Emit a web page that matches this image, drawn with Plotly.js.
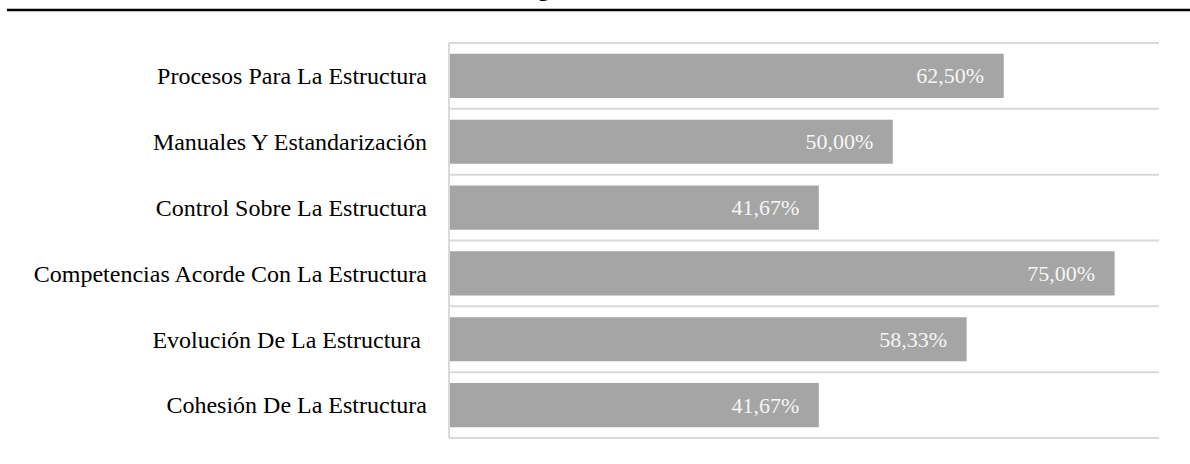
<!DOCTYPE html>
<html>
<head>
<meta charset="utf-8">
<script src="https://cdn.plot.ly/plotly-3.0.1.min.js"></script>
<style>html,body{margin:0;padding:0;background:#fff;}#chart{width:1190px;height:464px;}</style>
</head>
<body>
<div id="chart"></div>
<script>
const categories = [
  "Procesos Para La Estructura",
  "Manuales Y Estandarización",
  "Control Sobre La Estructura",
  "Competencias Acorde Con La Estructura",
  "Evolución De La Estructura\u00a0",
  "Cohesión De La Estructura"
];
const values = [0.625, 0.50, 0.4167, 0.75, 0.5833, 0.4167];

const trace = {
  type: "bar",
  orientation: "h",
  y: categories,
  x: values,
  marker: {color: "#a5a5a5"},
  texttemplate: "%{x:.2%}\u00a0\u00a0\u00a0",
  textposition: "inside",
  insidetextanchor: "end",
  textangle: 0,
  insidetextfont: {family: "Liberation Serif, Times New Roman, serif", size: 22, color: "#f5f5f5"},
  hoverinfo: "skip",
  cliponaxis: false
};

const layout = {
  width: 1190,
  height: 464,
  separators: ",.",
  margin: {l: 449, r: 31, t: 43, b: 26, pad: 0},
  paper_bgcolor: "#ffffff",
  plot_bgcolor: "#ffffff",
  bargap: 0.33,
  showlegend: false,
  font: {family: "Liberation Serif, Times New Roman, serif", size: 24, color: "#000000"},
  xaxis: {
    range: [0, 0.8],
    showgrid: false,
    zeroline: false,
    showticklabels: false,
    ticks: "",
    showline: false,
    fixedrange: true
  },
  yaxis: {
    autorange: "reversed",
    showgrid: false,
    zeroline: false,
    ticks: "",
    showline: false,
    ticklabelstandoff: 21,
    tickfont: {family: "Liberation Serif, Times New Roman, serif", size: 24, color: "#000000"},
    fixedrange: true
  },
  shapes: [
    {type: "line", xref: "paper", yref: "paper", x0: (7 - 449) / 710, x1: 1.05, y0: 1 + 33/395, y1: 1 + 33/395,
     line: {color: "#000000", width: 2.5}},
    {type: "line", xref: "paper", yref: "paper", x0: 0, x1: 0, y0: 0, y1: 1,
     line: {color: "#d9d9d9", width: 2}}
  ].concat(
    [0,1,2,3,4,5,6].map(i => ({
      type: "line", xref: "paper", yref: "paper", x0: 0, x1: 1,
      y0: i / 6, y1: i / 6, layer: "below",
      line: {color: "#d9d9d9", width: 2}
    }))
  ),
  annotations: [
    {xref: "paper", yref: "paper", x: (543 - 449) / 710, y: 1 + 40/395, xanchor: "center", yanchor: "bottom",
     text: "<b>g</b>", showarrow: false,
     font: {family: "Liberation Serif, Times New Roman, serif", size: 22, color: "#000000"}}
  ]
};

Plotly.newPlot("chart", [trace], layout, {displayModeBar: false, staticPlot: true});
</script>
</body>
</html>
